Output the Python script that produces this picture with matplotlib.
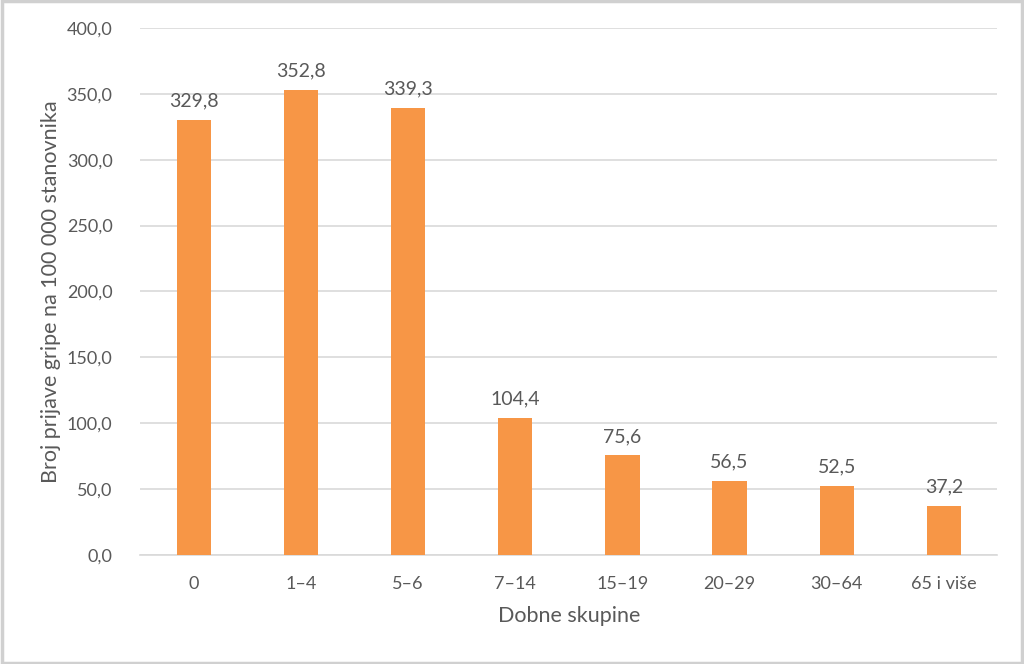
import matplotlib.pyplot as plt
from matplotlib.patches import Rectangle

categories = ['0', '1–4', '5–6', '7–14', '15–19', '20–29', '30–64', '65 i više']
values = [329.8, 352.8, 339.3, 104.4, 75.6, 56.5, 52.5, 37.2]
y_ticks = [0, 50, 100, 150, 200, 250, 300, 350, 400]

text_color = '#595959'
bar_color = '#F79646'

plt.rcParams['font.family'] = ['Lato', 'DejaVu Sans']

fig = plt.figure(figsize=(10.24, 6.64), dpi=100)
ax = fig.add_axes([0.137, 0.164, 0.837, 0.794])

x = list(range(len(categories)))
ax.bar(x, values, width=0.32, color=bar_color, zorder=3)

for xi, v in zip(x, values):
    ax.text(xi, v + 8, f'{v:.1f}'.replace('.', ','), ha='center', va='bottom',
            fontsize=14, color=text_color)

ax.set_xlim(-0.5, len(categories) - 0.5)
ax.set_ylim(0, 400)
ax.set_yticks(y_ticks)
ax.set_yticklabels([f'{t:.1f}'.replace('.', ',') for t in y_ticks])
ax.set_xticks(x)
ax.set_xticklabels(categories)
ax.tick_params(length=0, labelsize=13, labelcolor=text_color, pad=15)
ax.tick_params(axis='y', pad=20)

ax.grid(axis='y', color='#D9D9D9', linewidth=1.2, zorder=0)
for s in ['top', 'right', 'left']:
    ax.spines[s].set_visible(False)
ax.spines['bottom'].set_color('#D9D9D9')
ax.spines['bottom'].set_linewidth(1.2)

ax.set_xlabel('Dobne skupine', fontsize=15.5, color=text_color, labelpad=10)
ax.set_ylabel('Broj prijave gripe na 100 000 stanovnika', fontsize=15.5, color=text_color, labelpad=4)

fig.patches.append(Rectangle((0.0015, 0.002), 0.997, 0.996, transform=fig.transFigure,
                             fill=False, edgecolor='#D0D0D0', linewidth=2.5))

fig.savefig('out.png', dpi=100, facecolor='white')
